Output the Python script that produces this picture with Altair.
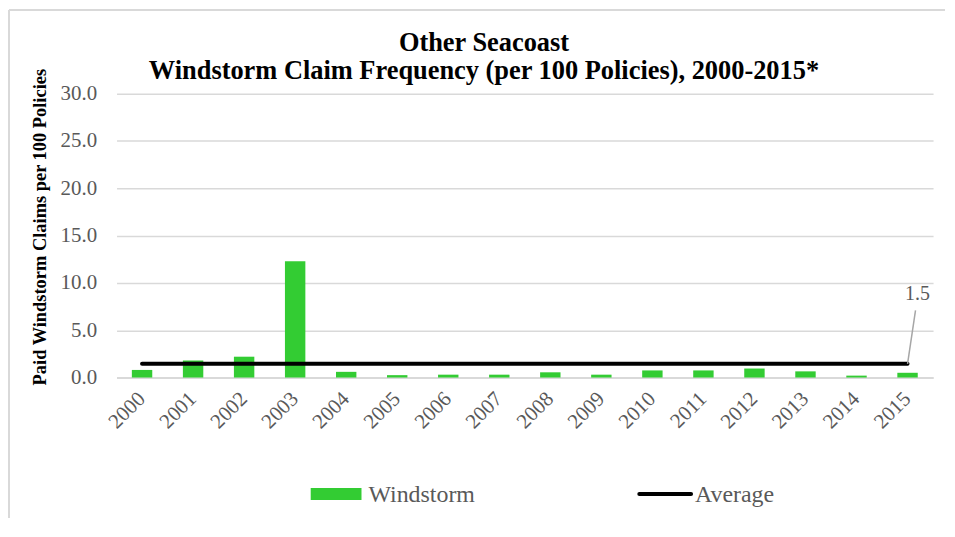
import altair as alt
import pandas as pd

years = [str(y) for y in range(2000, 2016)]
windstorm = [0.8, 1.8, 2.2, 12.3, 0.6, 0.25, 0.3, 0.3, 0.55, 0.3, 0.75, 0.75, 0.95, 0.65, 0.2, 0.5]
average = [1.45] * 16
avg_label = "1.5"
title_lines = ["Other Seacoast", "Windstorm Claim Frequency (per 100 Policies), 2000-2015*"]
y_title = "Paid Windstorm Claims per 100 Policies"
legend_labels = ["Windstorm", "Average"]

GREEN = "#33cc33"
GRAY_TXT = "#595959"
GRID = "#d9d9d9"
SERIF = "Liberation Serif"

W, H = 820, 285

df = pd.DataFrame({"year": years, "windstorm": windstorm, "average": average})

xscale = alt.Scale(domain=years, paddingInner=0.6, paddingOuter=0.3)
yscale = alt.Scale(domain=[0, 30])

base = alt.Chart(df)

bars = base.mark_bar(color=GREEN).encode(
    x=alt.X("year:N", scale=xscale, sort=years,
            axis=alt.Axis(title=None, labelAngle=315, labelAlign="right", labelBaseline="middle",
                          labelFont=SERIF, labelFontSize=21, labelColor=GRAY_TXT,
                          labelPadding=18, ticks=False, domainColor=GRID, domainWidth=2)),
    y=alt.Y("windstorm:Q", scale=yscale,
            axis=alt.Axis(title=None, values=[0, 5, 10, 15, 20, 25, 30], format=".1f",
                          labelFont=SERIF, labelFontSize=21, labelColor=GRAY_TXT, labelPadding=20,
                          ticks=False, domain=False, gridColor=GRID, gridWidth=1.5)),
)

line = base.mark_line(color="black", strokeWidth=4, strokeCap="round").encode(
    x=alt.X("year:N", scale=xscale, sort=years),
    y=alt.Y("average:Q", scale=yscale),
)

lab_df = pd.DataFrame({"year": [years[-1]], "v": [average[-1]], "v2": [7.1], "t": [avg_label]})
leader = alt.Chart(lab_df).mark_rule(color="#a6a6a6", strokeWidth=1.5, x2Offset=8).encode(
    x=alt.X("year:N", scale=xscale, sort=years),
    x2="year:N",
    y=alt.Y("v:Q", scale=yscale),
    y2="v2:Q",
)
lab_text = alt.Chart(lab_df).mark_text(font=SERIF, fontSize=20, color=GRAY_TXT, dx=10, dy=-64,
                                       baseline="alphabetic").encode(
    x=alt.X("year:N", scale=xscale, sort=years),
    y=alt.Y("v:Q", scale=yscale),
    text="t:N",
)

title = alt.Chart(pd.DataFrame({"t": [title_lines]})).mark_text(
    font=SERIF, fontSize=26.5, fontWeight="bold", color="black", align="center",
    baseline="alphabetic", lineHeight=28
).encode(x=alt.value(369), y=alt.value(-43), text="t")

ytitle = alt.Chart(pd.DataFrame({"t": [y_title]})).mark_text(
    font=SERIF, fontSize=18.5, fontWeight="bold", color="black", align="center",
    baseline="alphabetic", angle=270
).encode(x=alt.value(-71), y=alt.value(134), text="t:N")

border_v = alt.Chart(pd.DataFrame({"a": [0]})).mark_rule(color=GRID, strokeWidth=2).encode(
    x=alt.value(-108), y=alt.value(-84), y2=alt.value(432)
)
border_h = alt.Chart(pd.DataFrame({"a": [0]})).mark_rule(color=GRID, strokeWidth=2).encode(
    x=alt.value(-108), x2=alt.value(832), y=alt.value(-84)
)

leg_rect = alt.Chart(pd.DataFrame({"a": [0]})).mark_rect(color=GREEN).encode(
    x=alt.value(195), x2=alt.value(246), y=alt.value(396), y2=alt.value(408)
)
leg_line = alt.Chart(pd.DataFrame({"a": [0]})).mark_rule(color="black", strokeWidth=4, strokeCap="round").encode(
    x=alt.value(525), x2=alt.value(577), y=alt.value(402)
)
leg_t1 = alt.Chart(pd.DataFrame({"t": [legend_labels[0]]})).mark_text(
    font=SERIF, fontSize=24, color=GRAY_TXT, align="left", baseline="alphabetic"
).encode(x=alt.value(253), y=alt.value(410), text="t:N")
leg_t2 = alt.Chart(pd.DataFrame({"t": [legend_labels[1]]})).mark_text(
    font=SERIF, fontSize=24, color=GRAY_TXT, align="left", baseline="alphabetic"
).encode(x=alt.value(581), y=alt.value(410), text="t:N")

chart = alt.layer(
    border_v, border_h, bars, line, leader, lab_text, title, ytitle,
    leg_rect, leg_line, leg_t1, leg_t2
).properties(
    width=W, height=H,
    autosize=alt.AutoSizeParams(type="none"),
    padding={"left": 109, "top": 85, "right": 14, "bottom": 140},
).configure_view(stroke=None)

chart.save("out.html", embed_options={"renderer": "svg", "actions": False})
